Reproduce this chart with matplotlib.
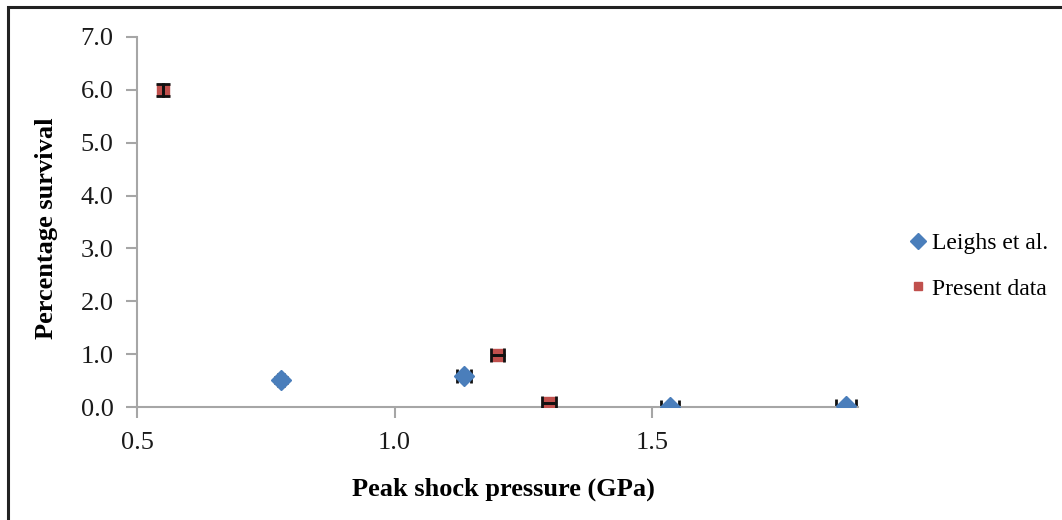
import matplotlib.pyplot as plt
from matplotlib.patches import Rectangle

# Leighs et al. data
leighs_pressure = [0.78, 1.135, 1.535, 1.877]
leighs_survival = [0.51, 0.59, 0.0, 0.02]
leighs_xerr = [0.006, 0.014, 0.017, 0.019]
leighs_yerr = [0.06, 0.0, 0.0, 0.0]

# Present data
present_pressure = [0.55, 1.2, 1.3]
present_survival = [6.0, 0.99, 0.075]
present_xerr = [0.0, 0.012, 0.013]
present_yerr = [0.11, 0.0, 0.0]

blue = '#4A7EBB'
red = '#C0504D'
axis_grey = '#A6A6A6'

plt.rcParams['font.family'] = ['Liberation Serif', 'DejaVu Serif']

fig = plt.figure(figsize=(10.62, 5.2), dpi=100)
ax = fig.add_axes([0.129, 0.217, 0.679, 0.712])

ax.plot(leighs_pressure, leighs_survival, 'D', color=blue, ms=10,
        mec=blue, label='Leighs et al.', zorder=3)
ax.plot(present_pressure, present_survival, 's', color=red, ms=8,
        mec=red, label='Present data', zorder=3)

# bar lines sit behind the markers; caps behind the diamonds, over the squares
for x, y, xe, ye, cap_z in [
        (leighs_pressure, leighs_survival, leighs_xerr, leighs_yerr, 2.5),
        (present_pressure, present_survival, present_xerr, present_yerr, 4)]:
    _, caps, bars = ax.errorbar(x, y, xerr=xe, yerr=ye, fmt='none',
                                ecolor='#111111', elinewidth=1.5,
                                capsize=5, capthick=2)
    for c in caps:
        c.set_zorder(cap_z)
    for b in bars:
        b.set_zorder(2)

ax.set_xlim(0.5, 1.9)
ax.set_ylim(0, 7)
ax.set_xticks([0.5, 1.0, 1.5])
ax.set_yticks(range(8))
ax.set_xticklabels(['0.5', '1.0', '1.5'])
ax.set_yticklabels([f'{v:.1f}' for v in range(8)])

for side in ('top', 'right'):
    ax.spines[side].set_visible(False)
for side in ('left', 'bottom'):
    ax.spines[side].set_color(axis_grey)
    ax.spines[side].set_linewidth(1.5)
ax.tick_params(axis='both', colors=axis_grey, labelcolor='#1a1a1a',
               labelsize=19, width=1.5, length=8)
ax.tick_params(axis='x', pad=10)
ax.tick_params(axis='y', pad=9)

ax.set_xlabel('Peak shock pressure (GPa)', fontsize=19, fontweight='bold')
ax.set_ylabel('Percentage survival', fontsize=19, fontweight='bold')
ax.xaxis.set_label_coords(0.508, -0.19)
ax.yaxis.set_label_coords(-0.11, 0.484)

fig.legend(loc='center left', bbox_to_anchor=(0.838, 0.488),
           frameon=False, fontsize=17, handlelength=0.6,
           handletextpad=0.3, labelspacing=1.0, markerscale=0.8)

# outer frame (right and bottom edges fall off the picture)
fig.patches.append(Rectangle((8 / 1062, -0.1), 1.2, 1.1 - 7 / 520,
                             transform=fig.transFigure, fill=False,
                             edgecolor='#222222', linewidth=2.2))

fig.savefig('out.png', dpi=100)
